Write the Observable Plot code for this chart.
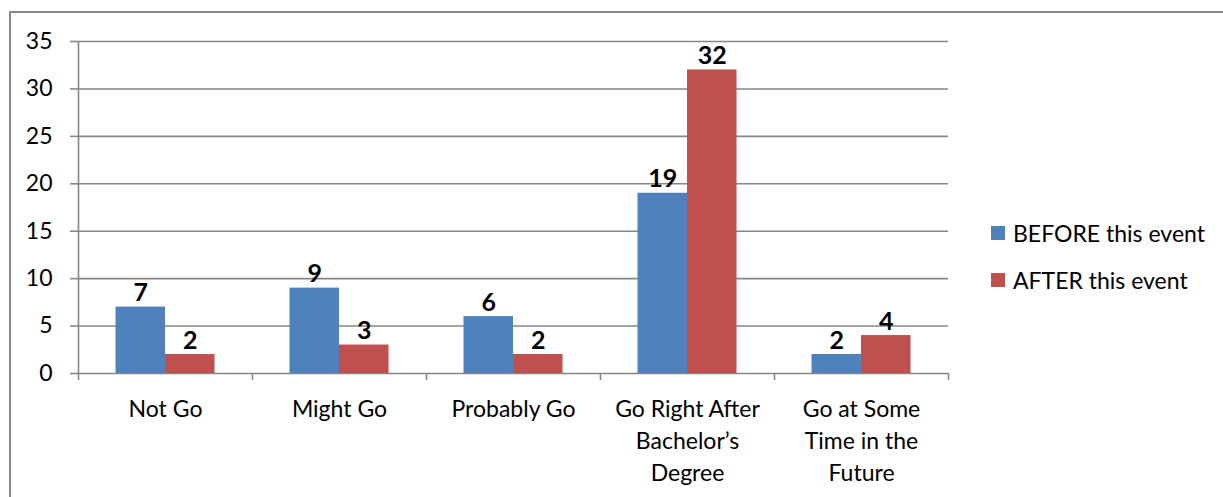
<!DOCTYPE html>
<html>
<head>
<meta charset="utf-8">
<script src="https://cdn.jsdelivr.net/npm/d3@7"></script>
<script src="https://cdn.jsdelivr.net/npm/@observablehq/plot@0.6"></script>
<style>
  body { margin: 0; background: #fff; }
  #wrap { position: relative; width: 1223px; height: 497px; overflow: hidden; font-family: Lato, sans-serif; }
  #border { position: absolute; left: 9px; top: 11px; width: 1300px; height: 600px; border-left: 2px solid #8a8a8a; border-top: 2px solid #8a8a8a; }
  #legend { position: absolute; left: 991px; top: 219px; font-size: 23px; color: #000; }
  .item { display: flex; align-items: center; height: 28px; margin-bottom: 19px; }
  .sw { width: 14px; height: 14px; margin-right: 8px; }
</style>
</head>
<body>
<div id="wrap"><div id="border"></div><div id="chart"></div><div id="legend"></div></div>
<script>
const categories = ["Not Go", "Might Go", "Probably Go", "Go Right After\nBachelor’s\nDegree", "Go at Some\nTime in the\nFuture"];
const seriesNames = ["BEFORE this event", "AFTER this event"];
const beforeValues = [7, 9, 6, 19, 2];
const afterValues = [2, 3, 2, 32, 4];
const yTicks = [0, 5, 10, 15, 20, 25, 30, 35];
const colors = ["#4F81BD", "#C0504D"];

const rows = [];
categories.forEach((c, i) => {
  rows.push({category: c, i, series: seriesNames[0], s: 0, value: beforeValues[i]});
  rows.push({category: c, i, series: seriesNames[1], s: 1, value: afterValues[i]});
});
const barW = 0.2845;
const x1 = d => d.i + 0.5 - (d.s === 0 ? barW : 0);
const x2 = d => d.i + 0.5 + (d.s === 1 ? barW : 0);
const xc = d => (x1(d) + x2(d)) / 2;
const grid = "#868686";

const chart = Plot.plot({
  width: 1223,
  height: 497,
  marginLeft: 78,
  marginRight: 275,
  marginTop: 41,
  marginBottom: 124,
  style: {fontFamily: "Lato, sans-serif", background: "transparent"},
  x: {type: "linear", domain: [0, categories.length], axis: null},
  y: {domain: [0, 35], axis: null},
  color: {domain: seriesNames, range: colors},
  marks: [
    Plot.ruleY(yTicks, {stroke: grid, strokeWidth: 1.6}),
    Plot.axisY({ticks: yTicks, label: null, tickSize: 8, tickPadding: 18, stroke: grid, strokeWidth: 1.6, fontSize: 23, color: "#000", tickFormat: d => String(d)}),
    Plot.ruleX([0], {stroke: grid, strokeWidth: 1.6}),
    Plot.axisX({ticks: d3.range(categories.length + 1), label: null, tickSize: 7, tickFormat: () => "", stroke: grid, strokeWidth: 1.6}),
    Plot.rectY(rows, {x1, x2, y1: 0, y2: "value", fill: "series"}),
    Plot.text(rows, {x: xc, y: "value", text: d => String(d.value), lineAnchor: "bottom", dy: -6, fontSize: 25, fontWeight: "bold", fill: "#000"}),
    Plot.text(categories, {x: (d, i) => i + 0.5, y: 0, text: d => d, lineAnchor: "top", dy: 21, fontSize: 23, lineHeight: 32 / 23, fill: "#000"})
  ]
});
document.getElementById("chart").appendChild(chart);

const legend = document.getElementById("legend");
seriesNames.forEach((name, k) => {
  const item = document.createElement("div");
  item.className = "item";
  item.innerHTML = `<div class="sw" style="background:${colors[k]}"></div><span>${name}</span>`;
  legend.appendChild(item);
});
</script>
</body>
</html>
